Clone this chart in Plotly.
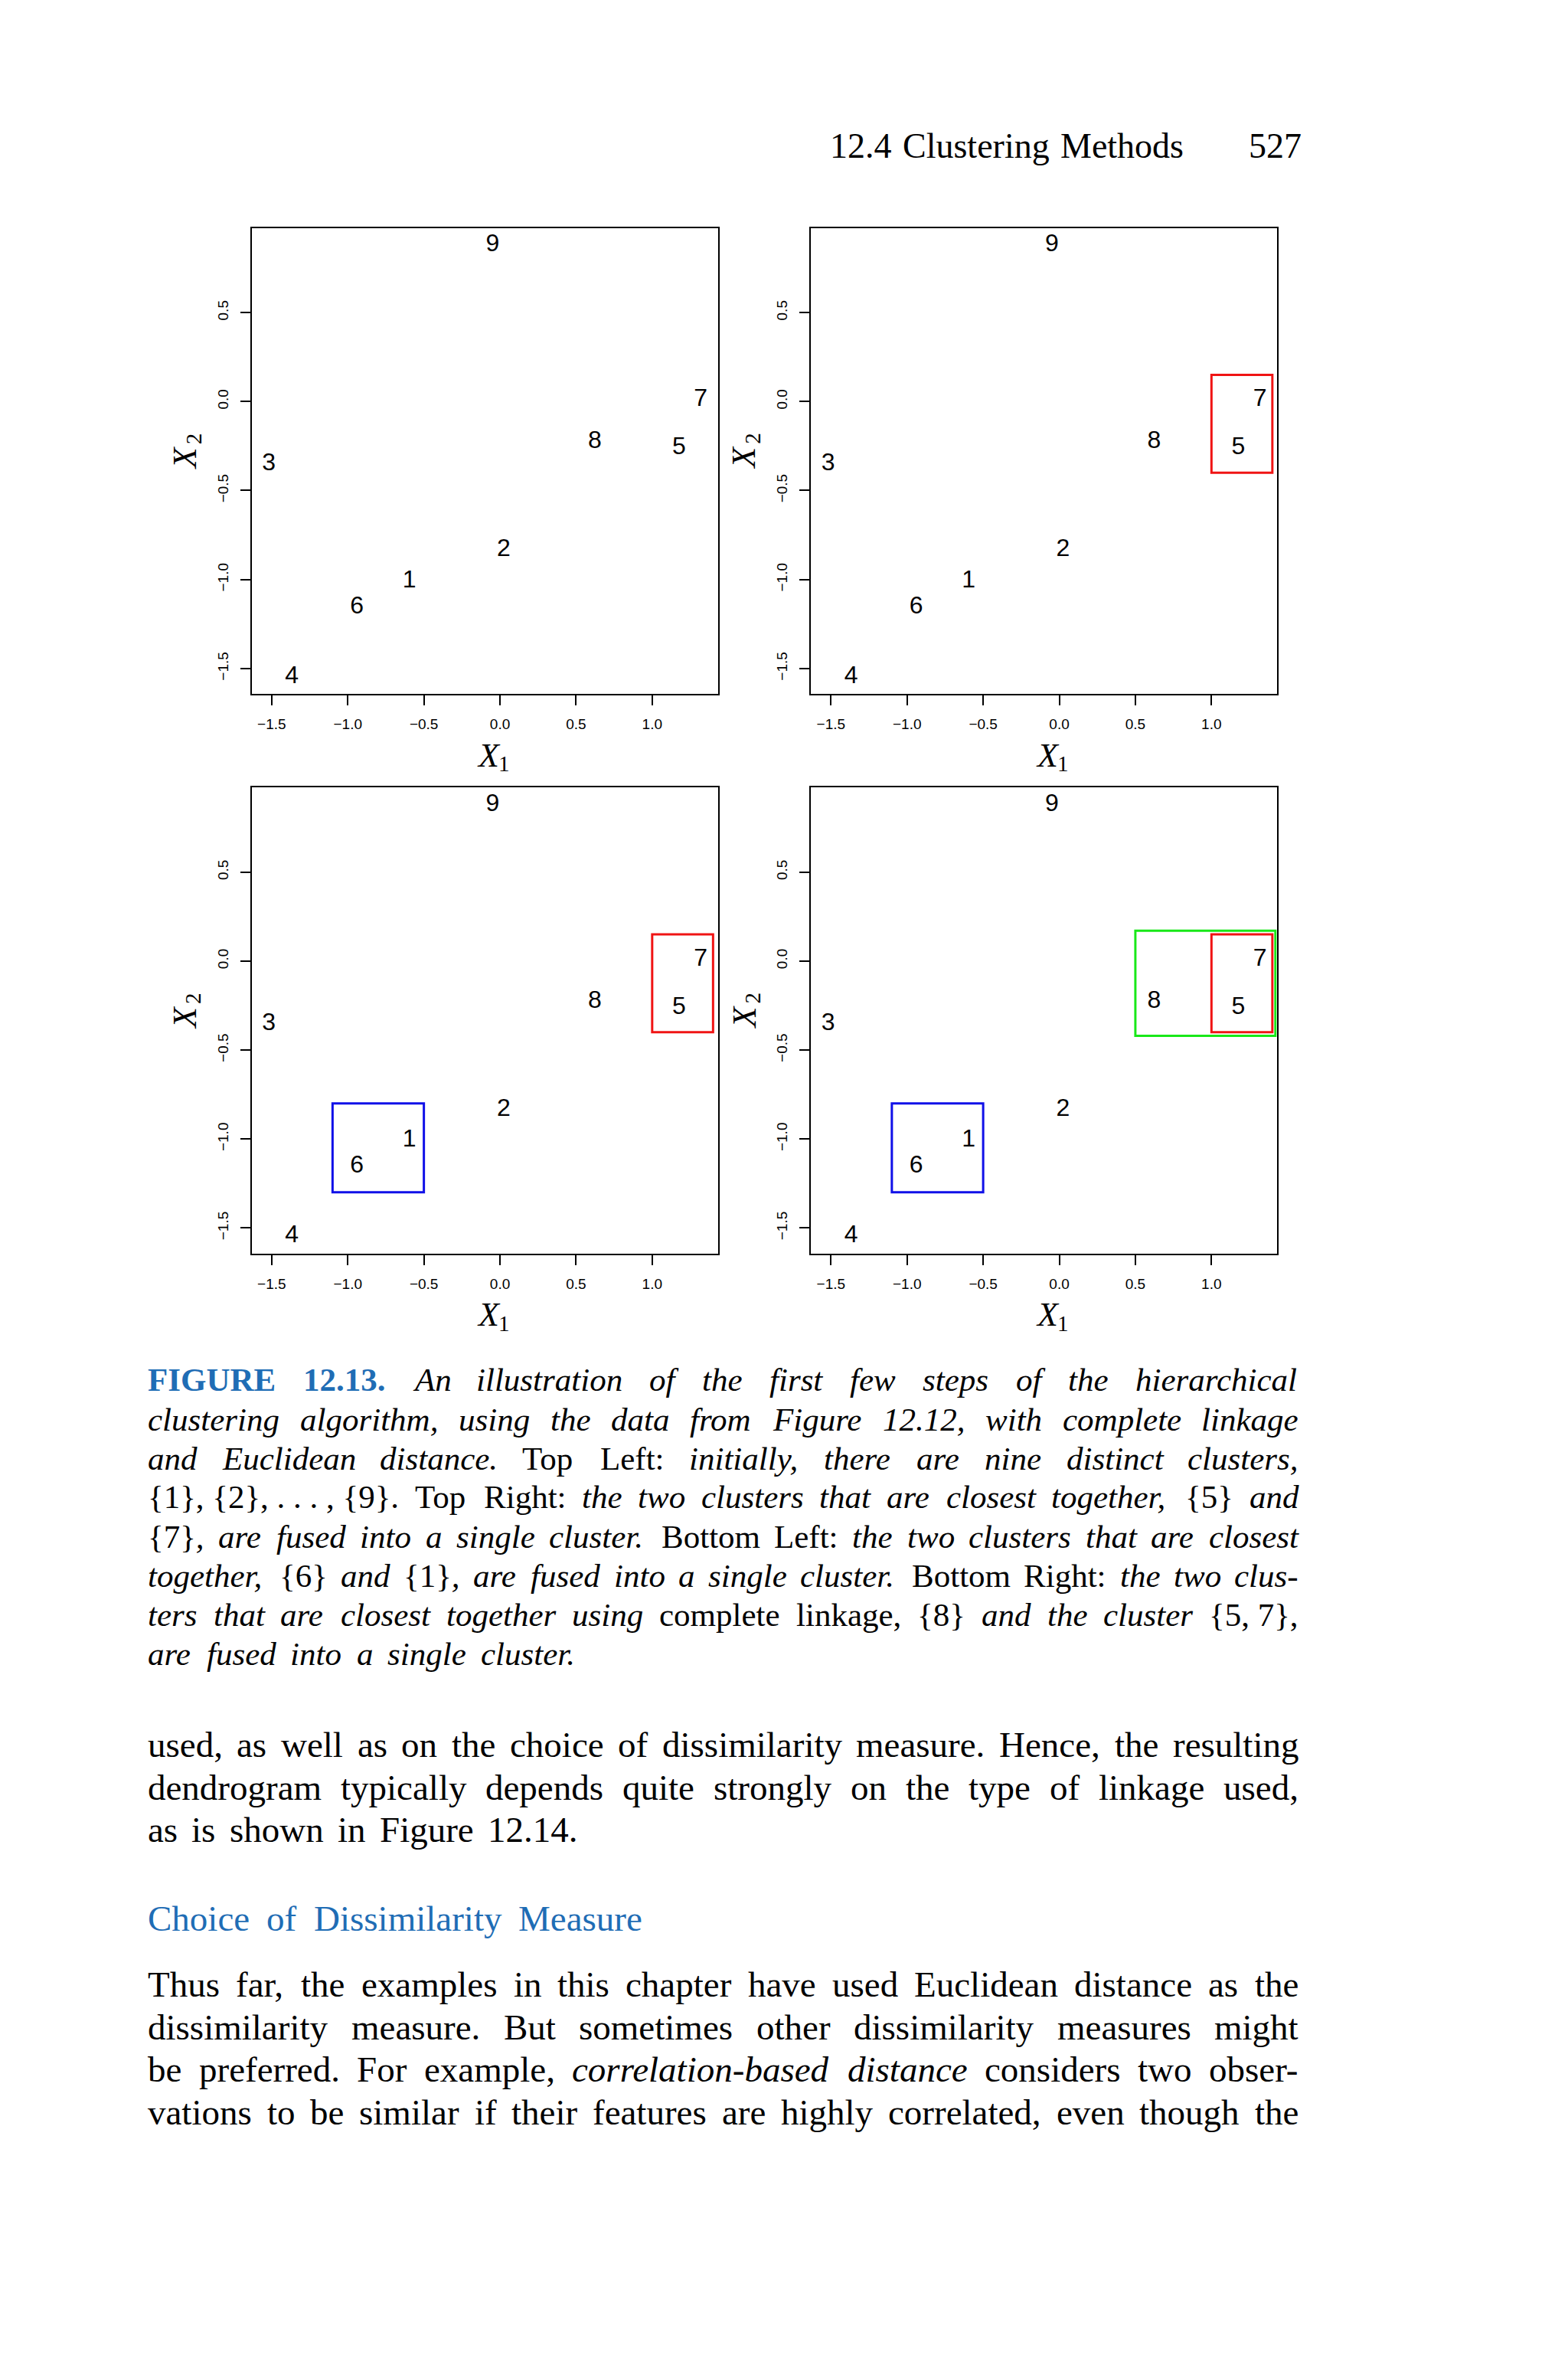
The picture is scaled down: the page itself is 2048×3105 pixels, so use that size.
import plotly.graph_objects as go

W, H = 2048, 3105
OFF = 8  # default page body margin
FW, FH = W - OFF, H - OFF

# ---------------- data ----------------
point_labels = ["1", "2", "3", "4", "5", "6", "7", "8", "9"]
x1_vals = [-0.596, 0.024, -1.519, -1.368, 1.177, -0.940, 1.319, 0.623, -0.049]
x2_vals = [-1.009, -0.835, -0.353, -1.547, -0.262, -1.155, 0.008, -0.227, 0.879]

x_tick_vals = [-1.5, -1.0, -0.5, 0.0, 0.5, 1.0]
x_tick_text = ["\u22121.5", "\u22121.0", "\u22120.5", "0.0", "0.5", "1.0"]
y_tick_vals = [-1.5, -1.0, -0.5, 0.0, 0.5]
y_tick_text = ["\u22121.5", "\u22121.0", "\u22120.5", "0.0", "0.5"]

# cluster boxes: [x0, x1, y0, y1]
red_box = [1.0, 1.40, -0.40, 0.15]
blue_box = [-1.1, -0.5, -1.30, -0.80]
green_box = [0.5, 1.42, -0.42, 0.17]

panel_boxes = {
    1: [],
    2: [("red", red_box)],
    3: [("red", red_box), ("blue", blue_box)],
    4: [("green", green_box), ("red", red_box), ("blue", blue_box)],
}
box_colors = {"red": "#F01414", "blue": "#1010E8", "green": "#18E818"}

# ---------------- text ----------------
header_left = "12.4 Clustering Methods"
header_right = "527"

caption_lines = [
    "#FIGURE# #12.13.# *An illustration of the first few steps of the hierarchical*",
    "*clustering algorithm, using the data from Figure 12.12, with complete linkage*",
    "*and Euclidean distance.* Top Left: *initially, there are nine distinct clusters,*",
    "{1},~{2},~.~.~.~,~{9}. Top Right: *the two clusters that are closest together,* {5} *and*",
    "{7}*, are fused into a single cluster.* Bottom Left: *the two clusters that are closest*",
    "*together,* {6} *and* {1}*, are fused into a single cluster.* Bottom Right: *the two clus-*",
    "*ters that are closest together using* complete linkage, {8} *and the cluster* {5,~7},",
    "*are fused into a single cluster.*",
]
body1_lines = [
    "used, as well as on the choice of dissimilarity measure. Hence, the resulting",
    "dendrogram typically depends quite strongly on the type of linkage used,",
    "as is shown in Figure 12.14.",
]
heading_text = "Choice of Dissimilarity Measure"
body2_lines = [
    "Thus far, the examples in this chapter have used Euclidean distance as the",
    "dissimilarity measure. But sometimes other dissimilarity measures might",
    "be preferred. For example, *correlation-based distance* considers two obser-",
    "vations to be similar if their features are highly correlated, even though the",
]

BLUE_TEXT = "#1F6DB5"
SERIF = "Liberation Serif, Times New Roman, serif"
SANS = "Liberation Sans, Arial, Helvetica, sans-serif"

# Times metrics (1/1000 em) for justification
ROMAN = {' ': 250, '!': 333, ',': 250, '-': 333, '.': 250, ':': 278, ';': 278, '{': 480, '}': 480,
         'A': 722, 'B': 667, 'C': 667, 'D': 722, 'E': 611, 'F': 556, 'G': 722, 'H': 722, 'I': 333,
         'J': 389, 'K': 722, 'L': 611, 'M': 889, 'N': 722, 'O': 722, 'P': 556, 'Q': 722, 'R': 667,
         'S': 556, 'T': 611, 'U': 722, 'V': 722, 'W': 944, 'X': 722, 'Y': 722, 'Z': 611,
         'a': 444, 'b': 500, 'c': 444, 'd': 500, 'e': 444, 'f': 333, 'g': 500, 'h': 500, 'i': 278,
         'j': 278, 'k': 500, 'l': 278, 'm': 778, 'n': 500, 'o': 500, 'p': 500, 'q': 500, 'r': 333,
         's': 389, 't': 278, 'u': 500, 'v': 500, 'w': 722, 'x': 500, 'y': 500, 'z': 444}
ITALIC = {' ': 250, ',': 250, '-': 333, '.': 250, ':': 333, '{': 400, '}': 400,
          'A': 611, 'B': 611, 'C': 667, 'D': 722, 'E': 611, 'F': 611, 'G': 722, 'H': 722, 'I': 333,
          'L': 556, 'M': 833, 'R': 611, 'T': 556,
          'a': 500, 'b': 500, 'c': 444, 'd': 500, 'e': 444, 'f': 278, 'g': 500, 'h': 500, 'i': 278,
          'j': 278, 'k': 444, 'l': 278, 'm': 722, 'n': 500, 'o': 500, 'p': 500, 'q': 500, 'r': 389,
          's': 389, 't': 278, 'u': 500, 'v': 444, 'w': 667, 'x': 444, 'y': 444, 'z': 389}
BOLD = {' ': 250, '.': 250, 'F': 611, 'I': 389, 'G': 778, 'U': 722, 'R': 722, 'E': 667}
for d in "0123456789":
    ROMAN[d] = ITALIC[d] = BOLD[d] = 500
TABLES = {'r': ROMAN, 'i': ITALIC, 'b': BOLD}


def px_x(px):
    return (px - OFF) / FW


def px_y(py):
    return 1 - (py - OFF) / FH


def parse(line):
    words, cur, buf = [], [], []
    state = {'s': 'r'}

    def flush():
        if buf:
            cur.append(("".join(buf), state['s']))
            buf.clear()

    for ch in line:
        if ch == '*':
            flush()
            state['s'] = 'r' if state['s'] == 'i' else 'i'
        elif ch == '#':
            flush()
            state['s'] = 'r' if state['s'] == 'b' else 'b'
        elif ch == ' ':
            flush()
            if cur:
                words.append(list(cur))
                cur.clear()
        elif ch == '~':
            buf.append(' ')
        else:
            buf.append(ch)
    flush()
    if cur:
        words.append(list(cur))
    return words


def frag_width(text, style, size):
    t = TABLES[style]
    return sum(t.get(c, 500) for c in text) / 1000.0 * size


def frag_html(text, style):
    if style == 'i':
        return "<i>" + text + "</i>"
    if style == 'b':
        return "<b><span style='color:" + BLUE_TEXT + "'>" + text + "</span></b>"
    return text


annotations = []


def add_line(line, left, right, ycen, size, color="black"):
    words = parse(line)
    widths = [sum(frag_width(t, s, size) for t, s in w) for w in words]
    total = sum(widths)
    gap = (right - left - total) / (len(words) - 1) if len(words) > 1 else 0
    x = left
    for w, wd in zip(words, widths):
        annotations.append(dict(
            x=px_x(x), y=px_y(ycen), xref="paper", yref="paper",
            xanchor="left", yanchor="middle", showarrow=False, borderpad=0,
            text="".join(frag_html(t, s) for t, s in w),
            font=dict(family=SERIF, size=size, color=color)))
        x += wd + gap


def add_text(text, xc, yc, size, angle=0, italic=False):
    annotations.append(dict(
        x=px_x(xc), y=px_y(yc), xref="paper", yref="paper",
        xanchor="center", yanchor="middle", showarrow=False, borderpad=0,
        textangle=angle, text=("<i>" + text + "</i>") if italic else text,
        font=dict(family=SERIF, size=size, color="black")))


# header
add_line(header_left, 1083, 1545, 190, 46)
add_line(header_right, 1630, 1696, 190, 46)

# caption
cap_y0, cap_dy = 1802, 51.0
for i, ln in enumerate(caption_lines):
    right = 755 if i == len(caption_lines) - 1 else 1695
    add_line(ln, 192, right, cap_y0 + i * cap_dy, 43)

# body
body_dy = 55.5
for i, ln in enumerate(body1_lines):
    right = 753 if i == len(body1_lines) - 1 else 1695
    add_line(ln, 192, right, 2278 + i * body_dy, 47)
add_line(heading_text, 192, 838, 2505, 47, color=BLUE_TEXT)
for i, ln in enumerate(body2_lines):
    add_line(ln, 192, 1695, 2591 + i * body_dy, 47)

# ---------------- panels ----------------
xs = (min(x1_vals), max(x1_vals))
ys = (min(x2_vals), max(x2_vals))
x_range = [xs[0] - 0.04 * (xs[1] - xs[0]), xs[1] + 0.04 * (xs[1] - xs[0])]
y_range = [ys[0] - 0.04 * (ys[1] - ys[0]), ys[1] + 0.04 * (ys[1] - ys[0])]

panels = {
    1: (328.5, 937.8, 297.5, 906.2),
    2: (1059.0, 1668.3, 297.5, 906.2),
    3: (328.5, 937.8, 1028.0, 1636.8),
    4: (1059.0, 1668.3, 1028.0, 1636.8),
}

fig = go.Figure()
layout = dict(width=FW, height=FH, margin=dict(l=0, r=0, t=0, b=0),
              paper_bgcolor="white", plot_bgcolor="white", showlegend=False)
shapes = []

for k, (l, r, t, b) in panels.items():
    sfx = "" if k == 1 else str(k)
    fig.add_trace(go.Scatter(
        x=x1_vals, y=x2_vals, text=point_labels, mode="text",
        textposition="middle center",
        textfont=dict(family=SANS, size=32, color="black"),
        xaxis="x" + sfx, yaxis="y" + sfx, hoverinfo="skip", cliponaxis=False))
    axis_common = dict(showgrid=False, zeroline=False, showline=True, mirror=True,
                       linecolor="black", linewidth=2, ticks="outside", ticklen=13,
                       tickwidth=1.8, tickcolor="black",
                       tickfont=dict(family=SANS, size=19, color="black"))
    layout["xaxis" + sfx] = dict(axis_common, domain=[px_x(l), px_x(r)], range=x_range,
                                 anchor="y" + sfx, tickvals=x_tick_vals, ticktext=x_tick_text,
                                 ticklabelstandoff=8, fixedrange=True)
    layout["yaxis" + sfx] = dict(axis_common, domain=[px_y(b), px_y(t)], range=y_range,
                                 anchor="x" + sfx, tickvals=y_tick_vals, ticktext=y_tick_text,
                                 tickangle=-90, ticklabelstandoff=8, fixedrange=True)
    for cname, bx in panel_boxes[k]:
        shapes.append(dict(type="rect", xref="x" + sfx, yref="y" + sfx,
                           x0=bx[0], x1=bx[1], y0=bx[2], y1=bx[3],
                           line=dict(color=box_colors[cname], width=3)))
    # axis titles: X with subscript
    pcx, pcy = (l + r) / 2, (t + b) / 2
    add_text("X", pcx + 5, b + 80, 44, italic=True)
    add_text("1", pcx + 25, b + 91, 29)
    add_text("X", l - 87, pcy - 4, 44, angle=-90, italic=True)
    add_text("2", l - 76, pcy - 29, 29, angle=-90)

layout["shapes"] = shapes
layout["annotations"] = annotations
fig.update_layout(**layout)
fig.write_html("out.html")
